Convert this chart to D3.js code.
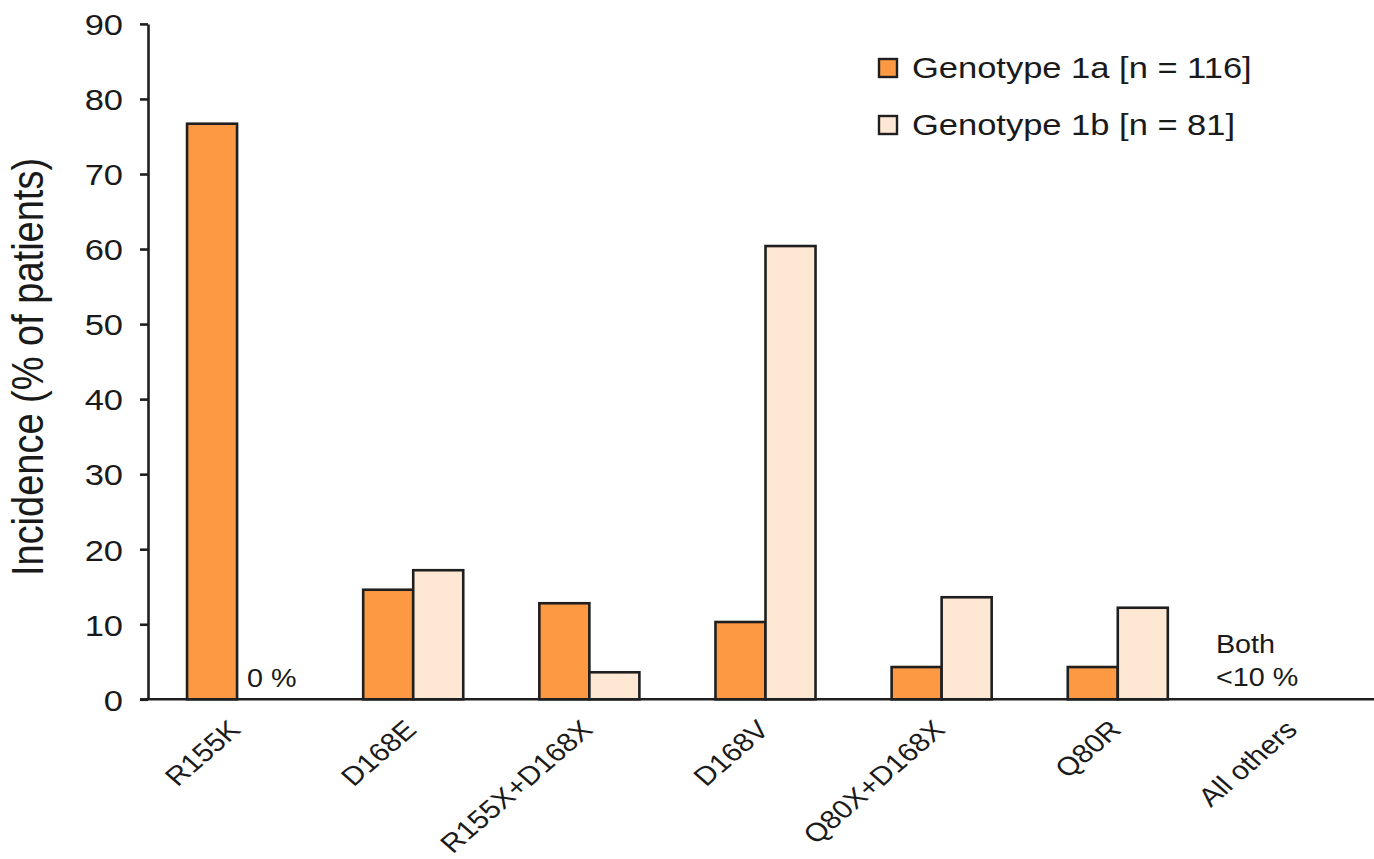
<!DOCTYPE html>
<html>
<head>
<meta charset="utf-8">
<script src="https://cdn.jsdelivr.net/npm/d3@7"></script>
<style>
  html, body { margin: 0; padding: 0; background: #fff; }
  svg { display: block; }
  text { font-family: "Liberation Sans", Arial, sans-serif; fill: #1a1a1a; }
</style>
</head>
<body>
<svg id="chart" width="1374" height="859"></svg>
<script>
const categories = ["R155K", "D168E", "R155X+D168X", "D168V", "Q80X+D168X", "Q80R", "All others"];
const genotype1a = [76.7, 14.6, 12.8, 10.3, 4.3, 4.3, null];
const genotype1b = [0, 17.2, 3.6, 60.4, 13.6, 12.2, null];
const seriesNames = ["Genotype 1a [n = 116]", "Genotype 1b [n = 81]"];
const seriesColors = ["#FD9942", "#FFE8D3"];
const yTicks = [0, 10, 20, 30, 40, 50, 60, 70, 80, 90];
const yTitle = "Incidence (% of patients)";
const noteCats = ["R155K", "All others"];
const noteLines = [["0 %"], ["Both", "<10 %"]];

const SX = 1.15; // horizontal stretch of text in reference
const ink = "#1f1f1f";
const svg = d3.select("#chart");

const y = d3.scaleLinear().domain([0, 90]).range([699.3, 23.9]);
const x0 = d3.scaleBand().domain(categories).range([149, 1382]).paddingInner(0.432).paddingOuter(0.216);
const x1 = d3.scaleBand().domain([0, 1]).range([0, x0.bandwidth()]);

// bars
const rows = categories.map((c, i) => ({ cat: c, vals: [genotype1a[i], genotype1b[i]] }));
const g = svg.append("g");
rows.forEach(r => {
  r.vals.forEach((v, k) => {
    if (v === null || v === 0) return;
    g.append("rect")
      .attr("x", x0(r.cat) + x1(k))
      .attr("y", y(v))
      .attr("width", x1.bandwidth())
      .attr("height", y(0) - y(v))
      .attr("fill", seriesColors[k])
      .attr("stroke", ink)
      .attr("stroke-width", 2.6);
  });
});

// y axis
const yAxis = svg.append("g").attr("transform", "translate(148,0)")
  .call(d3.axisLeft(y).tickValues(yTicks).tickSize(8).tickSizeOuter(0));
yAxis.select(".domain").attr("stroke", ink).attr("stroke-width", 2.6);
yAxis.selectAll(".tick line").attr("stroke", ink).attr("stroke-width", 2.6);
yAxis.selectAll(".tick text")
  .attr("x", 0).attr("dy", "0.36em")
  .attr("transform", `translate(-25,0) scale(${SX},1)`)
  .style("font-family", "'Liberation Sans', Arial, sans-serif")
  .style("font-size", "30px").attr("fill", ink);

// x baseline
svg.append("line")
  .attr("x1", 140).attr("x2", 1374)
  .attr("y1", y(0)).attr("y2", y(0))
  .attr("stroke", ink).attr("stroke-width", 2.6);

// x labels
const xAxis = svg.append("g").attr("transform", `translate(0,${y(0)})`)
  .call(d3.axisBottom(x0).tickSize(0));
xAxis.select(".domain").remove();
xAxis.selectAll(".tick text")
  .attr("x", 0).attr("y", 0).attr("dy", 0)
  .attr("text-anchor", "end")
  .attr("transform", `translate(5,32) scale(${SX},1) rotate(-45)`)
  .style("font-family", "'Liberation Sans', Arial, sans-serif")
  .style("font-size", "26px").attr("fill", ink);

// y title
svg.append("text")
  .attr("text-anchor", "middle")
  .attr("transform", `translate(43,367) scale(${SX},1) rotate(-90)`)
  .style("font-size", "38px")
  .text(yTitle);

// notes
noteCats.forEach((c, j) => {
  const cx = x0(c) + x0.bandwidth() / 2;
  const lines = noteLines[j];
  const dx = lines.length === 1 ? 10 : -78;
  const t = svg.append("text")
    .attr("transform", `translate(${cx + dx},${lines.length === 1 ? 687 : 653}) scale(${SX},1)`)
    .style("font-size", "25px");
  lines.forEach((l, i) => t.append("tspan").attr("x", 0).attr("dy", i === 0 ? 0 : 33).text(l));
});

// legend
const leg = svg.append("g");
seriesNames.forEach((s, i) => {
  const yy = 59 + i * 57;
  leg.append("rect").attr("x", 879).attr("y", yy).attr("width", 18).attr("height", 18)
    .attr("fill", seriesColors[i]).attr("stroke", ink).attr("stroke-width", 2.4);
  leg.append("text")
    .attr("transform", `translate(912,${yy + 19}) scale(${SX},1)`)
    .style("font-size", "30px")
    .text(s);
});
</script>
</body>
</html>
